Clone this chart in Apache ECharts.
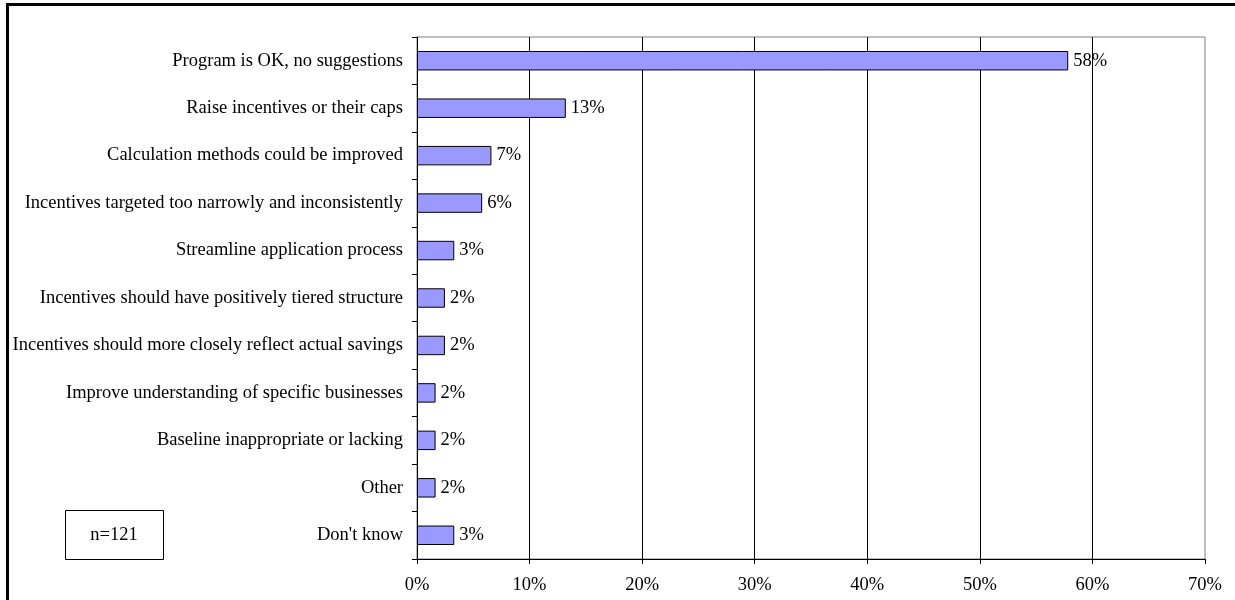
<!DOCTYPE html>
<html>
<head>
<meta charset="utf-8">
<title>Suggestions for improving the program</title>
<script src="https://cdn.jsdelivr.net/npm/echarts@6/dist/echarts.min.js"></script>
<style>
  html, body { margin: 0; padding: 0; background: #fff; }
  #chart { width: 1235px; height: 600px; }
</style>
</head>
<body>
<div id="chart"></div>
<script>
// Responses (share of respondents, %), n = 121
const categories = [
  "Program is OK, no suggestions",
  "Raise incentives or their caps",
  "Calculation methods could be improved",
  "Incentives targeted too narrowly and inconsistently",
  "Streamline application process",
  "Incentives should have positively tiered structure",
  "Incentives should more closely reflect actual savings",
  "Improve understanding of specific businesses",
  "Baseline inappropriate or lacking",
  "Other",
  "Don't know"
];
const shares = [57.85, 13.22, 6.61, 5.79, 3.31, 2.48, 2.48, 1.65, 1.65, 1.65, 3.31];
const sampleNote = "n=121";
const axisMin = 0;
const axisMax = 70;
const axisStep = 10;

const FONT = '"Liberation Serif", "Times New Roman", serif';
const FONT_SIZE = 18.5;

const chart = echarts.init(document.getElementById('chart'), null, { renderer: 'canvas' });

chart.setOption({
  animation: false,
  backgroundColor: '#ffffff',
  grid: {
    left: 417,
    top: 37,
    width: 788,
    height: 522,
    show: true,
    borderColor: '#808080',
    borderWidth: 1,
    backgroundColor: 'transparent'
  },
  xAxis: {
    type: 'value',
    min: axisMin,
    max: axisMax,
    interval: axisStep,
    axisLine: { show: true, lineStyle: { color: '#000', width: 1 } },
    axisTick: { show: true, length: 5, lineStyle: { color: '#000' } },
    axisLabel: {
      formatter: '{value}%',
      color: '#000',
      fontFamily: FONT,
      fontSize: FONT_SIZE,
      margin: 17
    },
    splitLine: {
      show: true,
      showMinLine: false,
      showMaxLine: false,
      lineStyle: { color: '#000', width: 1 }
    }
  },
  yAxis: {
    type: 'category',
    data: categories,
    inverse: true,
    axisLine: { show: true, lineStyle: { color: '#000', width: 1 } },
    axisTick: { show: true, length: 5, lineStyle: { color: '#000' } },
    axisLabel: {
      color: '#000',
      fontFamily: FONT,
      fontSize: FONT_SIZE,
      margin: 14
    },
    splitLine: { show: false }
  },
  series: [{
    type: 'bar',
    data: shares,
    barCategoryGap: '59%',
    itemStyle: {
      color: '#9999FF',
      borderColor: '#000',
      borderWidth: 1
    },
    label: {
      show: true,
      position: 'right',
      distance: 5,
      color: '#000',
      fontFamily: FONT,
      fontSize: FONT_SIZE,
      formatter: p => Math.round(p.value) + '%'
    }
  }],
  graphic: [
    {
      type: 'polyline',
      shape: { points: [[7.5, 600], [7.5, 4.5], [1235, 4.5]] },
      style: { stroke: '#000', lineWidth: 3, fill: null }
    },
    {
      type: 'rect',
      shape: { x: 65.5, y: 510.5, width: 98, height: 49 },
      style: { fill: '#fff', stroke: '#000', lineWidth: 1 }
    },
    {
      type: 'text',
      x: 114,
      y: 535,
      style: {
        text: sampleNote,
        fill: '#000',
        font: FONT_SIZE + 'px ' + FONT,
        align: 'center',
        verticalAlign: 'middle'
      }
    }
  ]
});
</script>
</body>
</html>
